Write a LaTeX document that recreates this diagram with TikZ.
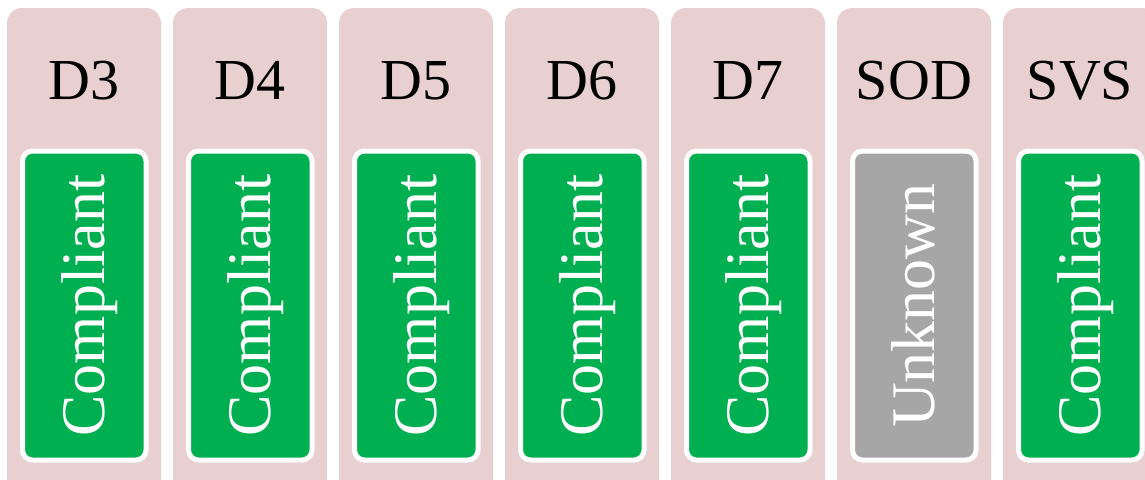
\documentclass[tikz,border=0pt]{standalone}
\usepackage{fontspec}
\setmainfont{Liberation Serif}
\definecolor{colbg}{HTML}{E8D0D1}
\definecolor{okgreen}{HTML}{00B050}
\definecolor{unkgray}{HTML}{A6A6A6}
\tikzset{
  colbox/.style={fill=colbg, draw=none, rounded corners=15pt},
  statebox/.style={draw=white, line width=5pt, rounded corners=10pt},
  title/.style={font=\fontsize{58}{66}\selectfont, anchor=base, inner sep=0pt},
  state/.style={font=\fontsize{62}{70}\selectfont, text=white, anchor=base, rotate=90, inner sep=0pt}
}
\begin{document}
\begin{tikzpicture}[x=1pt,y=-1pt]
\useasboundingbox (0,0) rectangle (1145,479);
\clip (0,0) rectangle (1145,479);
\foreach \i/\name/\st/\col in {0/D3/Compliant/okgreen,1/D4/Compliant/okgreen,2/D5/Compliant/okgreen,3/D6/Compliant/okgreen,4/D7/Compliant/okgreen,5/SOD/Unknown/unkgray,6/SVS/Compliant/okgreen}{
  \pgfmathsetmacro{\xl}{7+166*\i}
  \path[colbox] (\xl,8) rectangle (\xl+154,520);
  \node[title] (t\i) at (\xl+77,99) {\name};
  \path[statebox, fill=\col] (\xl+15.5,151) rectangle (\xl+139,460);
  \node[state] (s\i) at (\xl+97.5,305.5) {\st};
}
\end{tikzpicture}
\end{document}
